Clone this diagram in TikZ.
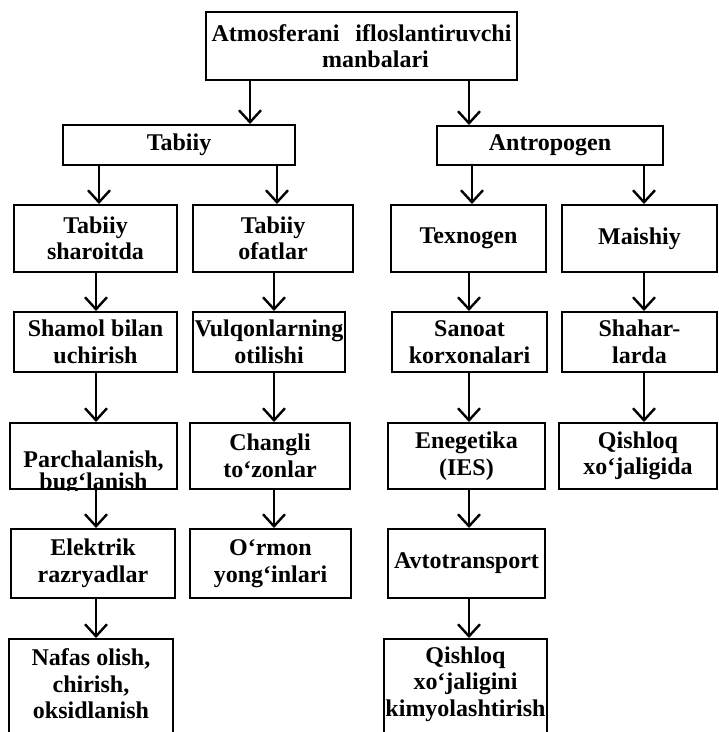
\documentclass[tikz,border=0pt]{standalone}
\usepackage{fontspec}
\setmainfont{Liberation Serif}
\usetikzlibrary{arrows.meta}
\tikzset{
  box/.style={draw, line width=2pt, align=center, inner sep=0pt,
    font=\bfseries\fontsize{24}{26.5}\selectfont},
  boxtext/.style={align=center, inner sep=0pt,
    font=\bfseries\fontsize{24}{26.5}\selectfont},
  arr/.style={line width=2.4pt, -{Straight Barb[length=12pt,width=22pt]}}
}
\begin{document}
\begin{tikzpicture}[x=1pt,y=-1pt]
\useasboundingbox (0,0) rectangle (719,732);
\clip (0,0) rectangle (719,732);
% top
\node[box, minimum width=311pt, minimum height=68pt] (top) at (361.5,46)
  {Atmosferani\hspace{10pt} ifloslantiruvchi\\\hspace*{28pt}manbalari};
% level 2
\node[box, minimum width=232pt, minimum height=40pt] (tabiiy) at (179,145) {Tabiiy};
\node[box, minimum width=226pt, minimum height=39pt] (antro) at (550,145.5) {Antropogen};
% row 3
\node[box, minimum width=163pt, minimum height=67pt] (ts) at (95.5,238.5) {Tabiiy\\sharoitda};
\node[box, minimum width=160pt, minimum height=67pt] (to) at (273,238.5) {Tabiiy\\ofatlar};
\node[box, minimum width=155pt, minimum height=67pt] (tex) at (468.5,238.5) {Texnogen};
\node[box, minimum width=155pt, minimum height=67pt] (mai) at (639.5,238.5) {Maishiy};
% row 4
\node[box, minimum width=163pt, minimum height=60pt] (sh) at (95.5,342) {Shamol bilan\\uchirish};
\node[box, minimum width=152pt, minimum height=60pt] (vu) at (269,342) {Vulqonlarning\\otilishi};
\node[box, minimum width=155pt, minimum height=60pt] (sa) at (469.5,342) {Sanoat\\korxonalari};
\node[box, minimum width=155pt, minimum height=60pt] (shh) at (639.5,342) {Shahar-\\larda};
% row 5
\node[box, minimum width=167pt, minimum height=66pt] (pb) at (93.5,456) {};
\begin{scope}
  \clip (pb.north west) rectangle (pb.south east);
  \node[boxtext, font=\bfseries\fontsize{24}{22}\selectfont] (pbt) at (93.5,473)
    {Parchalanish,\\bug‘lanish};
\end{scope}
\node[box, minimum width=160pt, minimum height=66pt] (ch) at (270,456) {Changli\\to‘zonlar};
\node[box, minimum width=157pt, minimum height=66pt] (en) at (466.5,456) {Enegetika\\(IES)};
\node[box, minimum width=158pt, minimum height=66pt] (qx) at (638,456) {Qishloq\\xo‘jaligida};
% row 6
\node[box, minimum width=164pt, minimum height=69pt] (el) at (93,563.5) {Elektrik\\razryadlar};
\node[box, minimum width=161pt, minimum height=69pt] (or) at (270.5,563.5) {O‘rmon\\yong‘inlari};
\node[box, minimum width=157pt, minimum height=69pt] (av) at (466.5,563.5) {Avtotransport};
% row 7 (cut off at the bottom)
\node[box, anchor=north, minimum width=164pt, minimum height=130pt] (na) at (91,638) {};
\node[boxtext] (nat) at (91,684) {Nafas olish,\\chirish,\\oksidlanish};
\node[box, anchor=north, minimum width=163pt, minimum height=130pt] (qk) at (465.5,638) {};
\node[boxtext] (qkt) at (465.5,684) {Qishloq\\xo‘jaligini\\kimyolashtirish};
% arrow columns
\coordinate (xa) at (250,0);
\coordinate (xb) at (469,0);
\coordinate (x1) at (99,0);
\coordinate (x2) at (277,0);
\coordinate (x3) at (472,0);
\coordinate (x4) at (644,0);
\coordinate (c1) at (96,0);
\coordinate (c2) at (274,0);
\coordinate (c3) at (469,0);
\coordinate (c4) at (644,0);
% connectors
\draw[arr] (top.south -| xa) -- (tabiiy.north -| xa);
\draw[arr] (top.south -| xb) -- (antro.north -| xb);
\draw[arr] (tabiiy.south -| x1) -- (ts.north -| x1);
\draw[arr] (tabiiy.south -| x2) -- (to.north -| x2);
\draw[arr] (antro.south -| x3) -- (tex.north -| x3);
\draw[arr] (antro.south -| x4) -- (mai.north -| x4);
\draw[arr] (ts.south -| c1) -- (sh.north -| c1);
\draw[arr] (to.south -| c2) -- (vu.north -| c2);
\draw[arr] (tex.south -| c3) -- (sa.north -| c3);
\draw[arr] (mai.south -| c4) -- (shh.north -| c4);
\draw[arr] (sh.south -| c1) -- (pb.north -| c1);
\draw[arr] (vu.south -| c2) -- (ch.north -| c2);
\draw[arr] (sa.south -| c3) -- (en.north -| c3);
\draw[arr] (shh.south -| c4) -- (qx.north -| c4);
\draw[arr] (pb.south -| c1) -- (el.north -| c1);
\draw[arr] (ch.south -| c2) -- (or.north -| c2);
\draw[arr] (en.south -| c3) -- (av.north -| c3);
\draw[arr] (el.south -| c1) -- (na.north -| c1);
\draw[arr] (av.south -| c3) -- (qk.north -| c3);
\end{tikzpicture}
\end{document}
